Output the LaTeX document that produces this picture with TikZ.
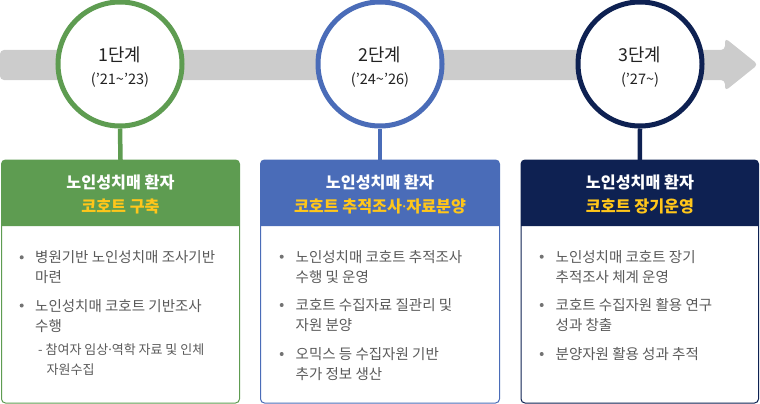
\documentclass[tikz,border=0pt]{standalone}
\usepackage{fontspec}
\setmainfont{Noto Sans CJK KR}
\newfontfamily\latinfont{Noto Sans}
\newcommand{\mdot}{{\latinfont ·}}
\definecolor{barg}{HTML}{CCCCCC}
\definecolor{cgreen}{HTML}{5E9C51}
\definecolor{cblue}{HTML}{4A6CB8}
\definecolor{cnavy}{HTML}{0E2152}
\definecolor{cyel}{HTML}{FFC61A}
\definecolor{ctext}{HTML}{5A5A5A}
\definecolor{cdark}{HTML}{222222}
\tikzset{
  stagecirc/.style={circle, draw=#1, line width=5pt, fill=white, minimum size=124pt, inner sep=0pt},
  stagetitle/.style={anchor=base, inner sep=0pt, text=cdark, font=\fontsize{17.8}{20}\selectfont},
  stageyear/.style={anchor=base, inner sep=0pt, text=cdark, font=\fontsize{14.5}{16}\selectfont},
  hdrbox/.style={rectangle, minimum width=237pt, minimum height=66pt, inner sep=0pt},
  hdrline/.style={anchor=base, inner sep=0pt, text=white, font=\fontsize{16.2}{18}\selectfont\bfseries},
  hdrline2/.style={anchor=base, inner sep=0pt, text=cyel, font=\fontsize{16.2}{18}\selectfont\bfseries},
  bodyline/.style={anchor=base west, inner sep=0pt, text=ctext, font=\fontsize{14.5}{16}\selectfont},
  subline/.style={anchor=base west, inner sep=0pt, text=ctext, font=\fontsize{13}{14}\selectfont},
  bdot/.style={circle, fill=ctext!85, inner sep=0pt, minimum size=4pt},
  conn/.style={draw=#1, line width=4.5pt},
}
\begin{document}
\begin{tikzpicture}[x=1pt,y=-1pt]
\useasboundingbox (0,0) rectangle (760,404);
% timeline arrow
\fill[barg, rounded corners=4pt] (0,50) -- (725,50) -- (725,38) -- (758,64.5) -- (725,91) -- (725,80) -- (0,80) -- cycle;

% boxes
\foreach \xa/\xb/\col in {1.5/239.5/cgreen, 260.5/499.5/cblue, 521/758.5/cnavy}{
  \draw[\col, line width=1pt, fill=white, rounded corners=4pt] (\xa,160) rectangle (\xb,403);
  \fill[\col] (\xa,226) [rounded corners=4pt] -- (\xa,160) -- (\xb,160) [sharp corners] -- (\xb,226) -- cycle;
}
\node[hdrbox] (h1) at (120.5,193) {};
\node[hdrbox] (h2) at (380,193) {};
\node[hdrbox] (h3) at (639.75,193) {};

% circles
\node[stagecirc=cgreen] (c1) at (120,64) {};
\node[stagecirc=cblue] (c2) at (380,64) {};
\node[stagecirc=cnavy] (c3) at (640,64) {};
\draw[conn=cgreen] (c1.south) -- (h1.north);
\draw[conn=cblue] (c2.south) -- (h2.north);
\draw[conn=cnavy] (c3.south) -- (h3.north);

\node[stagetitle] (t1) at (120,61.8) {1단계};
\node[stageyear] (y1) at (120,84.8) {(’21\textasciitilde’23)};
\node[stagetitle] (t2) at (380,61.8) {2단계};
\node[stageyear] (y2) at (380,84.8) {(’24\textasciitilde’26)};
\node[stagetitle] (t3) at (640,61.8) {3단계};
\node[stageyear] (y3) at (640,84.8) {(’27\textasciitilde)};

% headers
\node[hdrline] (h1a) at (120.5,188.5) {노인성치매 환자};
\node[hdrline2] (h1b) at (120.5,212.2) {코호트 구축};
\node[hdrline] (h2a) at (380,188.5) {노인성치매 환자};
\node[hdrline2] (h2b) at (380,212.2) {코호트 추적조사\mdot 자료분양};
\node[hdrline] (h3a) at (640,188.5) {노인성치매 환자};
\node[hdrline2] (h3b) at (640,212.2) {코호트 장기운영};

% box 1 body
\node[bdot] (d11) at (21.7,257.3) {};
\node[bodyline] (l11) at (35,262.8) {병원기반 노인성치매 조사기반};
\node[bodyline] (l12) at (35,282.8) {마련};
\node[bdot] (d12) at (21.7,305.5) {};
\node[bodyline] (l13) at (35,311) {노인성치매 코호트 기반조사};
\node[bodyline] (l14) at (35,331) {수행};
\node[subline] (l15) at (38,354.9) {- 참여자 임상\mdot 역학 자료 및 인체};
\node[subline] (l16) at (46.5,374.9) {자원수집};

% box 2 body
\node[bdot] (d21) at (281.7,256.7) {};
\node[bodyline] (l21) at (295.5,262.2) {노인성치매 코호트 추적조사};
\node[bodyline] (l22) at (295.5,282.2) {수행 및 운영};
\node[bdot] (d22) at (281.7,305) {};
\node[bodyline] (l23) at (295.5,310.5) {코호트 수집자료 질관리 및};
\node[bodyline] (l24) at (295.5,330.5) {자원 분양};
\node[bdot] (d23) at (281.7,354) {};
\node[bodyline] (l25) at (295.5,359.5) {오믹스 등 수집자원 기반};
\node[bodyline] (l26) at (295.5,379.5) {추가 정보 생산};

% box 3 body
\node[bdot] (d31) at (541.7,256.7) {};
\node[bodyline] (l31) at (555.5,262.2) {노인성치매 코호트 장기};
\node[bodyline] (l32) at (555.5,282.2) {추적조사 체계 운영};
\node[bdot] (d32) at (541.7,305) {};
\node[bodyline] (l33) at (555.5,310.5) {코호트 수집자원 활용 연구};
\node[bodyline] (l34) at (555.5,330.5) {성과 창출};
\node[bdot] (d33) at (541.7,354) {};
\node[bodyline] (l35) at (555.5,359.5) {분양자원 활용 성과 추적};
\end{tikzpicture}
\end{document}
